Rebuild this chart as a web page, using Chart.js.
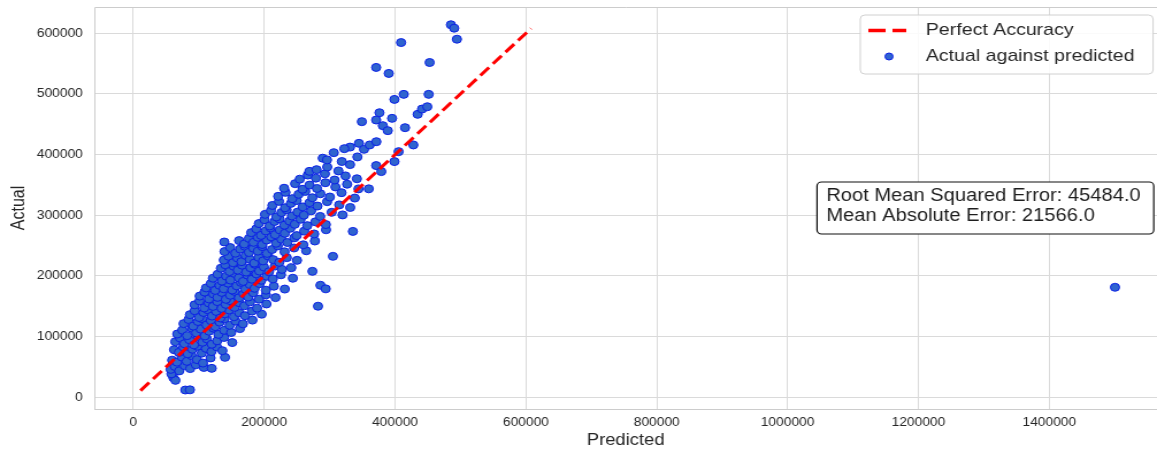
<!DOCTYPE html>
<html>
<head>
<meta charset="utf-8">
<title>Actual against predicted</title>
<script src="https://cdn.jsdelivr.net/npm/chart.js@4.4.1/dist/chart.umd.min.js"></script>
<style>
  html, body { margin: 0; padding: 0; background: #fff; overflow: hidden; }
  /* the reference was drawn narrower and stretched sideways, so do the same */
  #chart { transform: scaleX(1.1501); transform-origin: 0 0; }
</style>
</head>
<body>
<canvas id="chart" width="1006" height="450"></canvas>
<script>
// predicted sale price (x) and actual sale price (y), grouped roughly by band of actual value
const predicted = [
  79500, 86500,
  61200, 64400, 58300,
  57100, 63500, 70200, 78400, 86900, 95600, 107800, 119800,
  59400, 66800, 74100, 81700, 89200, 97300, 106500, 118100, 140100,
  62300, 69700, 76500, 83200, 90400, 97900, 104600, 111300, 119400, 127800, 136200,
  64100, 71300, 78000, 85600, 92700, 99100, 105800, 112400, 119900, 128300, 138700, 151200,
  67200, 74900, 82300, 89500, 96100, 102800, 109400, 115700, 122500, 130100, 138900, 149600, 163000,
  76800, 84400, 91600, 98700, 105200, 111900, 118600, 125300, 132000, 139400, 147200, 156300, 167500, 182100,
  86500, 93800, 100600, 107300, 113800, 120200, 126700, 133100, 139800, 146500, 153900, 161800, 170600, 181400, 196200,
  93700, 101200, 108400, 115100, 121700, 128400, 134900, 141300, 147900, 154800, 161900, 169700, 178500, 189200, 203500, 282300,
  101400, 108900, 115600, 122300, 128700, 135200, 141600, 148100, 154700, 161400, 168300, 175600, 183400, 192100, 202700, 217400,
  111200, 118500, 125100, 131800, 138200, 144700, 151300, 157900, 164500, 171200, 178100, 185400, 193200, 202600, 214800, 231500, 286000, 294000,
  121600, 128900, 135400, 142000, 148400, 154900, 161300, 167800, 174400, 181100, 188200, 195700, 203900, 213200, 225600, 243800,
  133800, 140600, 147100, 153500, 159800, 166200, 172600, 179100, 185700, 192500, 199600, 207400, 216300, 227100, 241500, 273700,
  138300, 145700, 152400, 158900, 165300, 171700, 178200, 184800, 191500, 198400, 205800, 213900, 223100, 234600, 250200, 305100,
  139400, 148200, 156100, 163400, 170200, 176900, 183600, 190300, 197200, 204400, 212100, 220800, 231200, 245700, 264300,
  139100, 161700, 169500, 176800, 183700, 190400, 197100, 203900, 210800, 218200, 226300, 235400, 246100, 259800, 277500,
  180200, 187900, 195300, 202400, 209600, 216700, 223900, 231600, 240100, 249700, 261200, 276400, 294500, 335600,
  191800, 200500, 208300, 215900, 223400, 230900, 238600, 246800, 255700, 265900, 278300, 294200,
  201300, 210400, 218600, 226500, 234300, 242400, 251100, 260700, 271800, 285600, 303200, 319800,
  212500, 222700, 231900, 240800, 249600, 258900, 269300, 281400, 296200, 314700, 331500,
  221400, 232600, 242900, 252700, 262800, 273600, 285900, 300400, 318200, 338500,
  230500, 247300, 258600, 269400, 280700, 293500, 308900, 326800, 344100, 359900,
  254400, 266700, 279100, 292800, 307600, 324300, 341700,
  269200, 280100, 296400, 313500, 331200, 371200, 379000,
  289500, 296000, 318700, 342500, 399100,
  306400, 331200, 344800, 352600, 361300, 371500, 405500, 428000, 322500,
  349300, 371200, 376200, 381300, 388900, 395500, 415300, 434600, 441300, 449300,
  399100, 413300, 451400, 371200, 390400, 409300, 452900, 485400, 490500, 494600,
  1500400
];
const actual = [
  12000, 12300,
  32400, 27900, 38600,
  46000, 50800, 43500, 52100, 47300, 53600, 49200, 47700,
  61200, 57900, 66400, 59300, 68500, 62100, 56400, 64800, 65800,
  78400, 74000, 82900, 71600, 79200, 84100, 72700, 80500, 75300, 83000, 76800,
  91600, 97800, 88300, 94900, 86400, 99200, 90700, 96300, 87500, 93100, 98600, 90200,
  104300, 110800, 101600, 113900, 106200, 112500, 101200, 108900, 114100, 103700, 110400, 106800, 113200,
  121400, 128200, 117300, 124900, 129600, 119200, 126300, 116500, 123800, 129100, 118700, 125500, 121000, 127200,
  136200, 142700, 131500, 139800, 144300, 133900, 141500, 130700, 137600, 143900, 132800, 139200, 134500, 142100, 137000,
  152400, 158900, 147300, 155600, 149800, 157700, 146500, 153200, 159400, 148100, 155900, 150700, 157300, 146900, 153800, 150100,
  166800, 173500, 162100, 170400, 164700, 172900, 161500, 168200, 174600, 163900, 170800, 165200, 172300, 161600, 168900, 164300,
  180300, 187600, 176200, 184500, 178900, 188200, 176800, 183700, 189400, 178100, 185900, 179600, 187300, 176500, 183100, 178400, 184600, 178700,
  196300, 202800, 191500, 199700, 193200, 204100, 196800, 191000, 201400, 194600, 203300, 192900, 199500, 195100, 201900, 196200,
  212700, 218400, 207300, 215900, 209600, 217800, 206400, 213500, 219200, 208100, 214700, 206900, 216200, 210800, 213600, 207600,
  226100, 232400, 221800, 229700, 223500, 233900, 227300, 221200, 230600, 224800, 233100, 226900, 222400, 230200, 225700, 232300,
  240200, 246800, 237500, 244300, 249100, 238600, 245700, 240900, 248400, 237200, 243600, 249500, 239800, 246100, 241500,
  256000, 258300, 252600, 261900, 255400, 263700, 251800, 259200, 264500, 253900, 260700, 255100, 262800, 251300, 257600,
  271400, 277600, 266900, 274200, 279300, 268100, 275800, 270300, 278600, 266500, 273900, 269200, 276100, 273400,
  286300, 292700, 282400, 289800, 294100, 283600, 290500, 285100, 293400, 282900, 289200, 284700,
  301500, 307800, 297200, 304600, 309100, 298800, 305300, 300200, 307400, 298100, 304900, 300600,
  316200, 322900, 312400, 319600, 324300, 313800, 320700, 315200, 322500, 317100, 312900,
  331200, 337800, 327400, 334600, 339300, 328900, 335500, 330100, 337200, 328400,
  344600, 352100, 342900, 349800, 344200, 353600, 346700, 351200, 343500, 343600,
  359500, 366300, 361200, 368400, 358100, 364900, 360200,
  372400, 375200, 379600, 373100, 383500, 381900, 372000,
  394100, 391300, 388600, 396200, 388500,
  403200, 412400, 418600, 408700, 415900, 421300, 404900, 415900, 409800,
  454300, 457000, 469000, 447700, 439500, 459800, 444400, 466400, 475100, 478900,
  491000, 499300, 499300, 543700, 533800, 584700, 551800, 614000, 608400, 590200,
  181300
];
// ends of the "perfect accuracy" diagonal
const perfectLine = [11000, 608000];
const xTicks = [0, 200000, 400000, 600000, 800000, 1000000, 1200000, 1400000];
const yTicks = [0, 100000, 200000, 300000, 400000, 500000, 600000];
const xRange = [-59600, 1564600];
const yRange = [-19300, 643300];
const errorLines = ['Root Mean Squared Error: 45484.0', 'Mean Absolute Error: 21566.0'];

if (predicted.length !== actual.length) {
    console.error('length mismatch', predicted.length, actual.length);
}

const FONT = '"Liberation Sans", Arial, sans-serif';
const TEXT = '#262626';
const GRID = '#dadada';
const DOT_FILL = '#2f64cf';
const DOT_EDGE = '#0b20e6';

function roundRect(ctx, x, y, w, h, r) {
    ctx.beginPath();
    ctx.moveTo(x + r, y);
    ctx.arcTo(x + w, y, x + w, y + h, r);
    ctx.arcTo(x + w, y + h, x, y + h, r);
    ctx.arcTo(x, y + h, x, y, r);
    ctx.arcTo(x, y, x + w, y, r);
    ctx.closePath();
}

// axes frame, legend box and the error text box
const decorations = {
    id: 'decorations',
    beforeDatasetsDraw(chart) {
        const ctx = chart.ctx;
        const a = chart.chartArea;
        ctx.save();
        ctx.strokeStyle = '#cccccc';
        ctx.lineWidth = 1;
        ctx.beginPath();
        ctx.moveTo(a.left + 0.5, a.bottom + 0.5);
        ctx.lineTo(a.left + 0.5, a.top + 0.5);
        ctx.lineTo(a.right, a.top + 0.5);
        ctx.moveTo(a.left, a.bottom + 0.5);
        ctx.lineTo(a.right, a.bottom + 0.5);
        ctx.stroke();
        ctx.restore();
    },
    afterDraw(chart) {
        const ctx = chart.ctx;
        const W = chart.width;
        ctx.save();

        // legend
        const lx = W - 258, ly = 15;
        roundRect(ctx, lx, ly, 254.6, 59, 4);
        ctx.fillStyle = 'rgba(255,255,255,0.85)';
        ctx.fill();
        ctx.strokeStyle = '#d0d0d0';
        ctx.lineWidth = 1;
        ctx.stroke();

        ctx.beginPath();
        ctx.setLineDash([15, 6]);
        ctx.strokeStyle = '#ff0000';
        ctx.lineWidth = 3.5;
        ctx.moveTo(lx + 7, 30.5);
        ctx.lineTo(lx + 40, 30.5);
        ctx.stroke();
        ctx.setLineDash([]);

        ctx.beginPath();
        ctx.arc(lx + 25, 56.5, 3.5, 0, Math.PI * 2);
        ctx.fillStyle = DOT_FILL;
        ctx.fill();
        ctx.strokeStyle = DOT_EDGE;
        ctx.lineWidth = 1;
        ctx.stroke();

        ctx.fillStyle = TEXT;
        ctx.font = '17px ' + FONT;
        ctx.textBaseline = 'middle';
        ctx.textAlign = 'left';
        ctx.fillText(chart.data.datasets[0].label, lx + 57, 30.5);
        ctx.fillText(chart.data.datasets[1].label, lx + 57, 56.5);

        // error box
        const bx = W - 295.6, by = 182;
        roundRect(ctx, bx, by, 292.8, 52, 4);
        ctx.fillStyle = '#ffffff';
        ctx.fill();
        ctx.strokeStyle = '#111111';
        ctx.lineWidth = 1.2;
        ctx.stroke();
        ctx.fillStyle = '#1e1e1e';
        ctx.font = '17.5px ' + FONT;
        errorLines.forEach((line, i) => {
            ctx.fillText(line, bx + 8, 196.5 + i * 20);
        });
        ctx.restore();
    }
};

const points = predicted.map((p, i) => ({ x: p, y: actual[i] }));

new Chart(document.getElementById('chart'), {
    type: 'scatter',
    data: {
        datasets: [
            {
                type: 'line',
                label: 'Perfect Accuracy',
                data: perfectLine.map(v => ({ x: v, y: v })),
                borderColor: '#ff0000',
                borderWidth: 3,
                borderDash: [11, 5],
                borderCapStyle: 'butt',
                pointRadius: 0,
                fill: false,
                tension: 0,
                order: 0
            },
            {
                label: 'Actual against predicted',
                data: points,
                backgroundColor: DOT_FILL,
                borderColor: DOT_EDGE,
                borderWidth: 1,
                pointRadius: 4,
                order: 1
            }
        ]
    },
    options: {
        responsive: false,
        animation: false,
        devicePixelRatio: 1,
        layout: { autoPadding: false, padding: { top: 7, right: 0, bottom: 0, left: 0 } },
        plugins: {
            legend: { display: false },
            tooltip: { enabled: false }
        },
        scales: {
            x: {
                type: 'linear',
                min: xRange[0],
                max: xRange[1],
                afterBuildTicks: scale => { scale.ticks = xTicks.map(v => ({ value: v })); },
                afterFit: scale => {
                    scale.height = 41;
                    scale.paddingLeft = 0;
                    scale.paddingRight = 0;
                },
                grid: { color: GRID, drawTicks: false },
                border: { display: false },
                ticks: {
                    padding: 6,
                    color: TEXT,
                    font: { family: FONT, size: 12 },
                    maxRotation: 0,
                    autoSkip: false,
                    callback: v => String(v)
                },
                title: {
                    display: true,
                    text: 'Predicted',
                    color: TEXT,
                    font: { family: FONT, size: 16 },
                    padding: { top: 0, bottom: 0 }
                }
            },
            y: {
                type: 'linear',
                min: yRange[0],
                max: yRange[1],
                afterBuildTicks: scale => { scale.ticks = yTicks.map(v => ({ value: v })); },
                afterFit: scale => {
                    scale.width = 82;
                    scale.paddingTop = 0;
                    scale.paddingBottom = 0;
                },
                grid: { color: GRID, drawTicks: false },
                border: { display: false },
                ticks: {
                    padding: 10,
                    color: TEXT,
                    font: { family: FONT, size: 12 },
                    autoSkip: false,
                    callback: v => String(v)
                },
                title: {
                    display: true,
                    text: 'Actual',
                    color: TEXT,
                    font: { family: FONT, size: 16 },
                    padding: { top: 7, bottom: 0 }
                }
            }
        }
    },
    plugins: [decorations]
});
</script>
</body>
</html>
